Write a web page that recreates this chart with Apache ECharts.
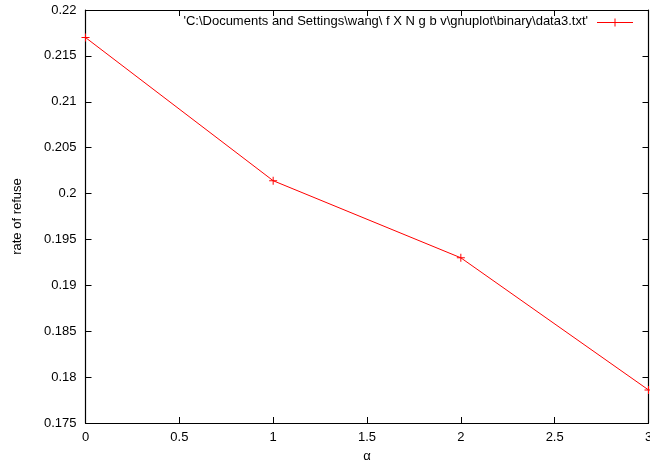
<!DOCTYPE html>
<html>
<head>
<meta charset="utf-8">
<script src="https://cdn.jsdelivr.net/npm/echarts@6/dist/echarts.min.js"></script>
<style>
  html, body { margin: 0; padding: 0; background: #fff; }
  #chart { width: 650px; height: 463px; }
</style>
</head>
<body>
<div id="chart"></div>
<script>
// alpha values and measured refusal rates
const alphaValues = [0, 1, 2, 3];
const refuseRates = [0.2170, 0.2014, 0.1930, 0.1786];
const seriesName = "'C:\\Documents and Settings\\wang\\ f X N g b v\\gnuplot\\binary\\data3.txt'";
const xTicks = [0, 0.5, 1, 1.5, 2, 2.5, 3];
const yTicks = [0.175, 0.18, 0.185, 0.19, 0.195, 0.2, 0.205, 0.21, 0.215, 0.22];

const font = 'Liberation Sans, Arial, sans-serif';
const fontSize = 13;
const red = '#ff0000';
const plusPath = 'path://M0,3.5h8v1h-8z M3.5,0h1v8h-1z';

const chart = echarts.init(document.getElementById('chart'), null, { renderer: 'canvas' });

const axisCommon = {
  axisLine: { show: true, onZero: false, lineStyle: { color: '#000', width: 1.2 } },
  axisTick: { show: true, inside: true, length: 6, lineStyle: { color: '#000' } },
  splitLine: { show: false }
};

// key box in the upper right: title text, then a line sample with a plus marker
const keyY = 22.5;
const keyLineX = [597, 633];
const keyGraphic = [
  { type: 'text', right: 650 - 588, top: keyY - 8,
    style: { text: seriesName, font: fontSize + 'px ' + font, fill: '#000' } },
  { type: 'line', shape: { x1: keyLineX[0], y1: keyY, x2: keyLineX[1], y2: keyY },
    style: { stroke: red, lineWidth: 1 } },
  { type: 'line', shape: { x1: (keyLineX[0] + keyLineX[1]) / 2, y1: keyY - 4,
      x2: (keyLineX[0] + keyLineX[1]) / 2, y2: keyY + 4 },
    style: { stroke: red, lineWidth: 1 } }
];

chart.setOption({
  animation: false,
  backgroundColor: '#fff',
  grid: { left: 85.5, right: 1.5, top: 10, bottom: 40, containLabel: false, outerBoundsMode: 'none' },
  graphic: keyGraphic,
  xAxis: [
    Object.assign({}, axisCommon, {
      type: 'value', min: 0, max: 3, interval: 0.5, position: 'bottom',
      name: 'α', nameLocation: 'middle', nameGap: 27,
      nameTextStyle: { fontFamily: font, fontSize: fontSize, color: '#000' },
      axisLabel: { show: true, margin: 8, fontFamily: font, fontSize: fontSize, color: '#000',
        formatter: v => xTicks.indexOf(v) >= 0 ? String(v) : '' }
    }),
    Object.assign({}, axisCommon, {
      type: 'value', min: 0, max: 3, interval: 0.5, position: 'top',
      axisLabel: { show: false }
    })
  ],
  yAxis: [
    Object.assign({}, axisCommon, {
      type: 'value', min: 0.175, max: 0.22, interval: 0.005, position: 'left',
      name: 'rate of refuse', nameLocation: 'middle', nameGap: 62, nameRotate: 90,
      nameTextStyle: { fontFamily: font, fontSize: fontSize, color: '#000' },
      axisLabel: { show: true, margin: 9, fontFamily: font, fontSize: fontSize, color: '#000',
        formatter: v => {
          const t = yTicks.find(y => Math.abs(y - v) < 1e-9);
          return t === undefined ? '' : String(parseFloat(t.toFixed(3)));
        } }
    }),
    Object.assign({}, axisCommon, {
      type: 'value', min: 0.175, max: 0.22, interval: 0.005, position: 'right',
      axisLabel: { show: false }
    })
  ],
  series: [{
    name: seriesName,
    type: 'line',
    xAxisIndex: 0,
    yAxisIndex: 0,
    data: alphaValues.map((a, i) => [a, refuseRates[i]]),
    symbol: plusPath,
    symbolSize: 8,
    showAllSymbol: true,
    lineStyle: { color: red, width: 1 },
    itemStyle: { color: red },
    clip: false
  }]
});
</script>
</body>
</html>
